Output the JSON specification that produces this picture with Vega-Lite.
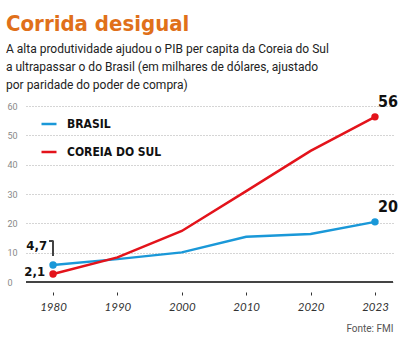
{
  "$schema": "https://vega.github.io/schema/vega-lite/v6.json",
  "width": 367,
  "height": 176,
  "padding": {"left": 6, "right": 8, "top": 12, "bottom": 4},
  "background": "white",
  "title": {
    "text": "Corrida desigual",
    "subtitle": ["A alta produtividade ajudou o PIB per capita da Coreia do Sul", "a ultrapassar o do Brasil (em milhares de dólares, ajustado", "por paridade do poder de compra)"],
    "anchor": "start",
    "frame": "group",
    "dx": -20,
    "offset": 2,
    "font": "DejaVu Sans Condensed",
    "fontSize": 22,
    "fontWeight": "bold",
    "color": "#e0701a",
    "subtitleFont": "Roboto",
    "subtitleFontSize": 12,
    "subtitleColor": "#222222",
    "subtitleLineHeight": 18,
    "subtitlePadding": 8
  },
  "config": {
    "view": {"stroke": null},
    "font": "Roboto"
  },
  "data": {
    "values": [
      {"year": "1980", "country": "BRASIL", "value": 5.8, "label": "4,7"},
      {"year": "1990", "country": "BRASIL", "value": 7.8, "label": ""},
      {"year": "2000", "country": "BRASIL", "value": 10.1, "label": ""},
      {"year": "2010", "country": "BRASIL", "value": 15.4, "label": ""},
      {"year": "2020", "country": "BRASIL", "value": 16.4, "label": ""},
      {"year": "2023", "country": "BRASIL", "value": 20.5, "label": "20"},
      {"year": "1980", "country": "COREIA DO SUL", "value": 2.7, "label": "2,1"},
      {"year": "1990", "country": "COREIA DO SUL", "value": 8.4, "label": ""},
      {"year": "2000", "country": "COREIA DO SUL", "value": 17.4, "label": ""},
      {"year": "2010", "country": "COREIA DO SUL", "value": 31, "label": ""},
      {"year": "2020", "country": "COREIA DO SUL", "value": 44.7, "label": ""},
      {"year": "2023", "country": "COREIA DO SUL", "value": 56.3, "label": "56"}
    ]
  },
  "encoding": {
    "x": {
      "field": "year",
      "type": "ordinal",
      "scale": {"type": "point", "padding": 0.35, "align": 0.6},
      "axis": {
        "title": "Fonte: FMI",
        "titleAnchor": "end",
        "titleAlign": "right",
        "titleFont": "Roboto",
        "titleFontSize": 10,
        "titleFontWeight": "normal",
        "titleColor": "#555555",
        "titlePadding": 11,
        "labelAngle": 0,
        "labelFont": "Lato",
        "labelFontStyle": "italic",
        "labelFontSize": 11.5,
        "labelColor": "#333333",
        "labelPadding": 6,
        "domain": false,
        "ticks": true,
        "tickSize": 3,
        "tickColor": "#333333",
        "offset": 10,
        "grid": false
      }
    },
    "y": {
      "field": "value",
      "type": "quantitative",
      "scale": {"domain": [0, 60], "nice": false},
      "axis": {
        "title": null,
        "values": [0, 10, 20, 30, 40, 50, 60],
        "domain": false,
        "ticks": false,
        "labelAlign": "left",
        "labelPadding": 19,
        "labelFont": "Roboto",
        "labelFontSize": 9,
        "labelColor": "#888888",
        "grid": true,
        "gridColor": "#aaaaaa",
        "gridDash": [1, 2],
        "gridWidth": 1
      }
    },
    "color": {
      "field": "country",
      "type": "nominal",
      "scale": {"domain": ["BRASIL", "COREIA DO SUL"], "range": ["#1a98d8", "#e3131b"]},
      "legend": {
        "title": null,
        "orient": "none",
        "legendX": 14,
        "legendY": 9,
        "symbolType": "stroke",
        "symbolSize": 225,
        "symbolStrokeWidth": 2.5,
        "labelFont": "DejaVu Sans Condensed",
        "labelFontSize": 12,
        "labelFontWeight": "bold",
        "labelColor": "#111111",
        "labelOffset": 9,
        "rowPadding": 13
      }
    }
  },
  "layer": [
    {
      "mark": {"type": "rule", "color": "#444444", "strokeWidth": 1.5},
      "encoding": {"y": {"datum": 0}, "x": null, "color": null}
    },
    {
      "mark": {"type": "line", "strokeWidth": 2.5}
    },
    {
      "transform": [{"filter": {"field": "year", "oneOf": ["1980", "2023"]}}],
      "mark": {"type": "point", "filled": true, "size": 55, "opacity": 1}
    },
    {
      "mark": {"type": "rule", "color": "#444444", "strokeWidth": 1},
      "encoding": {"x": {"datum": "1980"}, "y": {"datum": 8.9}, "y2": {"datum": 14}, "color": null}
    },
    {
      "mark": {"type": "rule", "color": "#444444", "strokeWidth": 1, "xOffset": -4},
      "encoding": {"x": {"datum": "1980"}, "x2": {"datum": "1980"}, "y": {"datum": 14}, "color": null}
    },
    {
      "transform": [{"filter": {"field": "year", "equal": "2023"}}],
      "mark": {"type": "text", "align": "left", "baseline": "alphabetic", "dx": 3, "dy": -10, "fontSize": 16, "fontWeight": "bold", "color": "#111111", "font": "DejaVu Sans Condensed"},
      "encoding": {"text": {"field": "label"}, "color": null}
    },
    {
      "transform": [{"filter": {"field": "label", "equal": "4,7"}}],
      "mark": {"type": "text", "align": "right", "baseline": "alphabetic", "dx": -6, "dy": -15, "fontSize": 13, "fontWeight": "bold", "color": "#111111", "font": "DejaVu Sans Condensed"},
      "encoding": {"text": {"field": "label"}, "color": null}
    },
    {
      "transform": [{"filter": {"field": "label", "equal": "2,1"}}],
      "mark": {"type": "text", "align": "right", "baseline": "alphabetic", "dx": -8, "dy": 2, "fontSize": 13, "fontWeight": "bold", "color": "#111111", "font": "DejaVu Sans Condensed"},
      "encoding": {"text": {"field": "label"}, "color": null}
    }
  ]
}
